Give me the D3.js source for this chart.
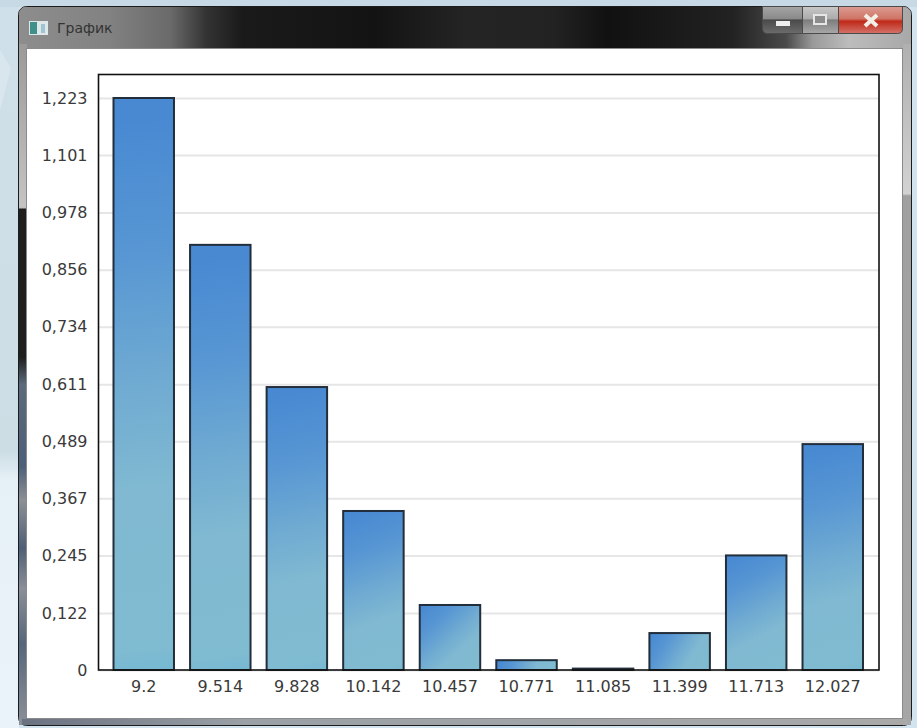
<!DOCTYPE html>
<html>
<head>
<meta charset="utf-8">
<script src="https://cdn.jsdelivr.net/npm/d3@7"></script>
<style>
    html, body { margin: 0; padding: 0; background: #d3e4ee; overflow: hidden; }
    text { font-family: "DejaVu Sans", sans-serif; fill: #3a3a3a; }
</style>
</head>
<body>
<svg id="chart" width="917" height="728"></svg>
<script>
const width = 917;
const height = 728;

// histogram bins and heights
const binLabels = ["9.2", "9.514", "9.828", "10.142", "10.457", "10.771", "11.085", "11.399", "11.713", "12.027"];
const binValues = [1.223, 0.909, 0.605, 0.340, 0.139, 0.021, 0.003, 0.079, 0.245, 0.483];
const yTickValues = [0, 0.122, 0.245, 0.367, 0.489, 0.611, 0.734, 0.856, 0.978, 1.101, 1.223];
const yTickLabels = ["0", "0,122", "0,245", "0,367", "0,489", "0,611", "0,734", "0,856", "0,978", "1,101", "1,223"];
const barStops = [[0.04, "#4889d2"], [0.28, "#5897d3"], [0.48, "#6ea9d2"], [0.68, "#80b9d1"], [0.96, "#7fbbd1"], [1, "#75b8d3"]];

const svg = d3.select("#chart");
const defs = svg.append("defs");

function addGradient(id, stops, x2 = 0, y2 = 1) {
    const g = defs.append("linearGradient")
        .attr("id", id)
        .attr("x1", 0).attr("y1", 0)
        .attr("x2", x2).attr("y2", y2);
    for (const [offset, color] of stops) {
        g.append("stop").attr("offset", offset).attr("stop-color", color);
    }
    return g;
}

addGradient("titleBar", [
    [0, "#8d8d8d"], [0.1, "#828282"], [0.17, "#6a6a6a"], [0.21, "#333"], [0.25, "#1a1a1a"],
    [0.4, "#131313"], [0.5, "#242424"], [0.6, "#222"], [0.66, "#111"], [0.8, "#222"],
    [0.86, "#4a4a4a"], [0.89, "#9a9a9a"], [0.93, "#bcbcbc"], [1, "#a8a8a8"]
], 1, 0);
addGradient("leftFrame", [
    [0, "#9a9a9a"], [0.24, "#c4c4c4"], [0.243, "#1e1e1e"], [0.46, "#1f1f1f"], [0.5, "#5b6a7c"],
    [0.62, "#4d6078"], [0.67, "#8c9096"], [0.74, "#4f5f78"], [0.8, "#8a8f98"], [0.88, "#56667c"], [1, "#8b9098"]
]);
addGradient("rightFrame", [[0, "#b0b0b0"], [0.22, "#d2d2d2"], [0.223, "#a0a0a0"], [1, "#a6a6a6"]]);
addGradient("bottomFrame", [[0, "#6a7180"], [0.25, "#9aa0a6"], [1, "#a9a9a9"]], 1, 0);
addGradient("minBtn", [[0, "#a5a5a5"], [0.45, "#8a8a8a"], [0.5, "#4a4a4a"], [1, "#6c6c6c"]]);
addGradient("maxBtn", [[0, "#c8c8c8"], [0.45, "#acacac"], [0.5, "#7d7d7d"], [1, "#a8a8a8"]]);
addGradient("closeBtn", [[0, "#dc9c92"], [0.45, "#cf7566"], [0.55, "#c0291a"], [1, "#d4736a"]]);
addGradient("deskLeft", [[0, "#cfe0ea"], [0.62, "#cddde4"], [0.66, "#e6f0f7"], [1, "#eaf3fa"]]);

// desktop behind the window
svg.append("rect").attr("width", width).attr("height", height).attr("fill", "#d2e4f0");
svg.append("rect").attr("width", 19).attr("height", height).attr("fill", "url(#deskLeft)");
svg.append("rect").attr("width", width).attr("height", 7).attr("fill", "#c6d9e5");
svg.append("path").attr("d", "M0,50 L11,68 L0,110 Z").attr("fill", "#d9e6ed");

// window frame
svg.append("rect").attr("x", 18.5).attr("y", 6.5).attr("width", 893).attr("height", 719).attr("rx", 8)
    .attr("fill", "#a8a8a8").attr("stroke", "#1c1c1c");
svg.append("rect").attr("x", 19).attr("y", 7).attr("width", 892).attr("height", 41).attr("rx", 7)
    .attr("fill", "url(#titleBar)");
svg.append("rect").attr("x", 19).attr("y", 44).attr("width", 8).attr("height", 681).attr("fill", "url(#leftFrame)");
svg.append("rect").attr("x", 903).attr("y", 44).attr("width", 8).attr("height", 681).attr("fill", "url(#rightFrame)");
svg.append("rect").attr("x", 22).attr("y", 719).attr("width", 886).attr("height", 6).attr("fill", "url(#bottomFrame)");
svg.append("rect").attr("x", 26.5).attr("y", 48.5).attr("width", 876).attr("height", 670)
    .attr("fill", "#fff").attr("stroke", "#8a8a8a");

// window icon and caption
svg.append("rect").attr("x", 29).attr("y", 21).attr("width", 19).attr("height", 14).attr("fill", "#dfe8e8");
svg.append("rect").attr("x", 30).attr("y", 22).attr("width", 7).attr("height", 12).attr("fill", "#3f8f8a");
svg.append("rect").attr("x", 41).attr("y", 24).attr("width", 4).attr("height", 9).attr("fill", "#9fc4d4");
svg.append("text").attr("x", 57).attr("y", 33).attr("font-size", 14).style("fill", "#333").text("График");

// caption buttons, square at the top and rounded below
const buttons = [
    ["M762.5,6.5 H802.5 V33.5 H767.5 Q762.5,33.5 762.5,28.5 Z", "minBtn"],
    ["M802.5,6.5 H838.5 V33.5 H802.5 Z", "maxBtn"],
    ["M838.5,6.5 H902.5 V28.5 Q902.5,33.5 897.5,33.5 H838.5 Z", "closeBtn"]
];
svg.append("g").selectAll("path").data(buttons).join("path")
    .attr("d", d => d[0])
    .attr("fill", d => `url(#${d[1]})`).attr("stroke", "#4a4a4a");
svg.append("rect").attr("x", 776).attr("y", 21).attr("width", 14).attr("height", 5).attr("fill", "#eee");
svg.append("rect").attr("x", 814).attr("y", 15).attr("width", 12).attr("height", 9)
    .attr("fill", "#8d8d8d").attr("stroke", "#e6e6e6").attr("stroke-width", 2);
svg.append("path").attr("d", "M865,15 L877,26 M877,15 L865,26")
    .attr("stroke", "#f3eee6").attr("stroke-width", 4).attr("fill", "none");

// plot area
const plotLeft = 98.5, plotRight = 879, plotTop = 74.5, plotBottom = 670;

const y = d3.scaleLinear().domain([0, 1.223]).range([plotBottom, 98]);
const x = d3.scaleBand().domain(binLabels).range([113.5, 863]).paddingInner(0.21).paddingOuter(0);

const yAxis = svg.append("g")
    .attr("transform", `translate(${plotLeft},0)`)
    .call(d3.axisLeft(y)
        .tickValues(yTickValues)
        .tickFormat((d, i) => yTickLabels[i])
        .tickSize(-(plotRight - plotLeft))
        .tickPadding(11));
yAxis.select(".domain").remove();
yAxis.selectAll("line").attr("stroke", "#e6e6e6").attr("stroke-width", 2);
yAxis.selectAll("text").attr("font-size", 16).attr("font-family", null);

// each bar runs its gradient corner to corner along its own diagonal
binValues.forEach((d, i) => {
    addGradient(`bar${i}`, barStops)
        .attr("gradientUnits", "userSpaceOnUse")
        .attr("x1", x(binLabels[i]))
        .attr("y1", y(d))
        .attr("x2", x(binLabels[i]) + x.bandwidth())
        .attr("y2", y(0));
});

svg.append("g").selectAll("rect")
    .data(binValues)
    .join("rect")
    .attr("x", (d, i) => x(binLabels[i]))
    .attr("y", d => y(d))
    .attr("width", x.bandwidth())
    .attr("height", d => y(0) - y(d))
    .attr("fill", (d, i) => `url(#bar${i})`)
    .attr("stroke", "#232e3b")
    .attr("stroke-width", 2);

// plot border goes over the gridlines
svg.append("rect")
    .attr("x", plotLeft).attr("y", plotTop)
    .attr("width", plotRight - plotLeft).attr("height", plotBottom - plotTop)
    .attr("fill", "none").attr("stroke", "#111").attr("stroke-width", 1.6);

const xAxis = svg.append("g")
    .attr("transform", `translate(0,${plotBottom})`)
    .call(d3.axisBottom(x).tickSize(0).tickPadding(11));
xAxis.select(".domain").remove();
xAxis.selectAll("text").attr("font-size", 16).attr("font-family", null);
</script>
</body>
</html>
